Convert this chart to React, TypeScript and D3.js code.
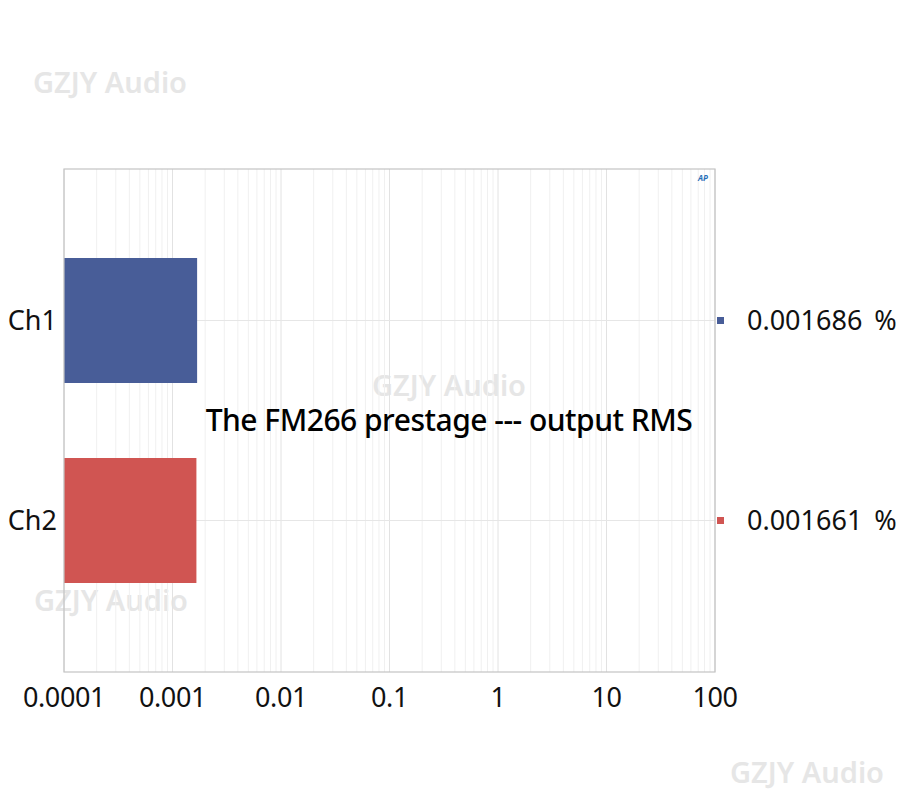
import * as d3 from "d3"

const channels = ["Ch1", "Ch2"]
const values = [0.001686, 0.001661]
const valueLabels = ["0.001686 %", "0.001661 %"]
const colors = ["#485d98", "#d05552"]
const tickValues = [0.0001, 0.001, 0.01, 0.1, 1, 10, 100]
const tickLabels = ["0.0001", "0.001", "0.01", "0.1", "1", "10", "100"]
const title = "The FM266 prestage --- output RMS"
const watermark = "GZJY Audio"

const W = 900
const H = 800
const plot = { left: 64, right: 715, top: 169, bottom: 672 }
const font = "'Noto Sans', 'Open Sans', sans-serif"

export default function App() {
  const x = d3.scaleLog().domain([0.0001, 100]).range([plot.left, plot.right])
  const y = d3
    .scaleBand<string>()
    .domain(channels)
    .range([plot.top, plot.bottom])
    .paddingInner(0.375)
    .paddingOuter(0.445)

  // minor grid 2..9 in each decade
  const minor: number[] = []
  for (let e = -4; e < 2; e++) {
    for (let m = 2; m <= 9; m++) minor.push(m * Math.pow(10, e))
  }

  const marks = [
    { x: 33, y: 93 },
    { x: 372, y: 396 },
    { x: 34, y: 611 },
    { x: 730, y: 783 },
  ]

  return (
    <svg
      width={W}
      height={H}
      style={{ position: "absolute", left: 0, top: 0, background: "#fff" }}
      fontFamily={font}
    >
      {marks.map((m, i) => (
        <text
          key={"wm" + i}
          x={m.x}
          y={m.y}
          fontSize={29}
          fontWeight={600}
          fill="#e6e6e6"
        >
          {watermark}
        </text>
      ))}

      {minor.map((v) => (
        <line
          key={"mi" + v}
          x1={x(v)}
          x2={x(v)}
          y1={plot.top}
          y2={plot.bottom}
          stroke="#f0f0f0"
          strokeWidth={1}
        />
      ))}
      {tickValues.map((v) => (
        <line
          key={"ma" + v}
          x1={x(v)}
          x2={x(v)}
          y1={plot.top}
          y2={plot.bottom}
          stroke="#e2e2e2"
          strokeWidth={1}
        />
      ))}
      {channels.map((c) => (
        <line
          key={"hg" + c}
          x1={plot.left}
          x2={plot.right}
          y1={y(c)! + y.bandwidth() / 2}
          y2={y(c)! + y.bandwidth() / 2}
          stroke="#e6e6e6"
          strokeWidth={1}
        />
      ))}

      {channels.map((c, i) => (
        <rect
          key={"bar" + c}
          x={x(0.0001)}
          y={y(c)}
          width={x(values[i]) - x(0.0001)}
          height={y.bandwidth()}
          fill={colors[i]}
        />
      ))}

      <rect
        x={plot.left}
        y={plot.top}
        width={plot.right - plot.left}
        height={plot.bottom - plot.top}
        fill="none"
        stroke="#c4c4c4"
        strokeWidth={1.2}
      />

      <text x={698} y={181} fontSize={8} fontWeight={700} fontStyle="italic" fill="#2a6fb8">
        AP
      </text>

      {channels.map((c) => (
        <text
          key={"lab" + c}
          x={57}
          y={y(c)! + y.bandwidth() / 2}
          dy="0.36em"
          textAnchor="end"
          fontSize={27}
          fill="#111"
        >
          {c}
        </text>
      ))}

      {channels.map((c, i) => (
        <g key={"leg" + c}>
          <rect
            x={717}
            y={y(c)! + y.bandwidth() / 2 - 3.5}
            width={7}
            height={7}
            fill={colors[i]}
          />
          <text
            x={747}
            y={y(c)! + y.bandwidth() / 2}
            dy="0.37em"
            fontSize={27}
            wordSpacing={5}
            fill="#111"
          >
            {valueLabels[i]}
          </text>
        </g>
      ))}

      {tickValues.map((v, i) => (
        <text
          key={"tl" + v}
          x={x(v)}
          y={707}
          textAnchor="middle"
          fontSize={27}
          letterSpacing={-0.4}
          fill="#111"
        >
          {tickLabels[i]}
        </text>
      ))}

      <text
        x={449}
        y={431}
        textAnchor="middle"
        fontSize={30}
        fontWeight={500}
        letterSpacing={-0.5}
        fill="#000"
      >
        {title}
      </text>
    </svg>
  )
}
